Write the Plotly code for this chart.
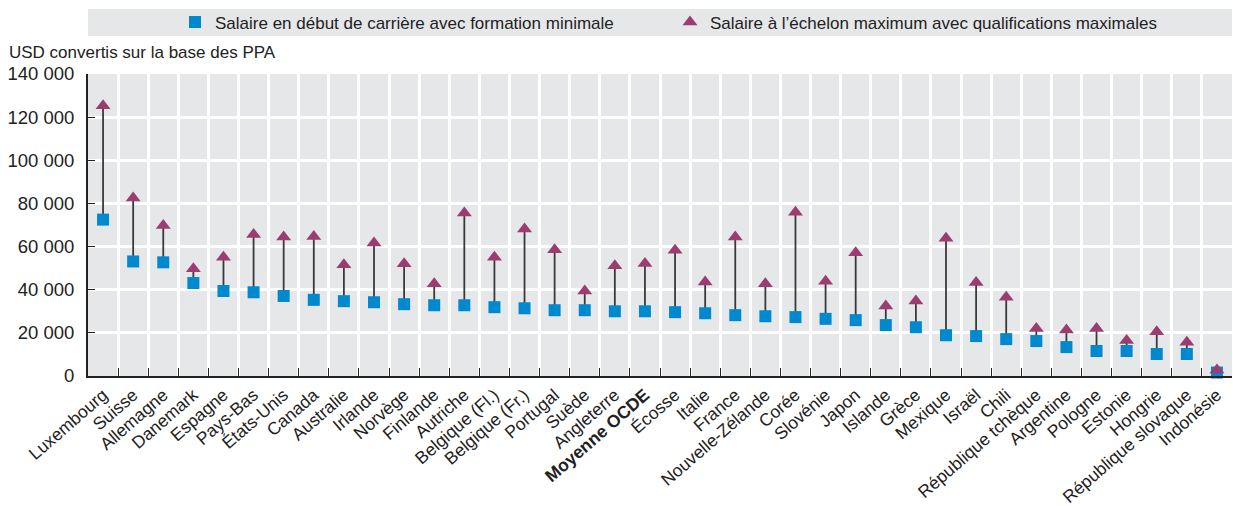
import plotly.graph_objects as go

countries = ["Luxembourg", "Suisse", "Allemagne", "Danemark", "Espagne", "Pays-Bas",
             "États-Unis", "Canada", "Australie", "Irlande", "Norvège", "Finlande",
             "Autriche", "Belgique (Fl.)", "Belgique (Fr.)", "Portugal", "Suède",
             "Angleterre", "Moyenne OCDE", "Écosse", "Italie", "France",
             "Nouvelle-Zélande", "Corée", "Slovénie", "Japon", "Islande", "Grèce",
             "Mexique", "Israël", "Chili", "République tchèque", "Argentine",
             "Pologne", "Estonie", "Hongrie", "République slovaque", "Indonésie"]

start_min = [72500, 53100, 52700, 43100, 39400, 38800, 37100, 35300, 34700, 34200,
             33300, 32800, 32800, 31900, 31400, 30500, 30500, 30000, 30000, 29600,
             29100, 28200, 27700, 27300, 26500, 25900, 23600, 22600, 18900, 18500,
             17100, 16200, 13400, 11600, 11600, 10200, 10200, 1600]

top_max = [125300, 82500, 69800, 49700, 55100, 65600, 64400, 64700, 51600, 61600,
           52000, 42800, 75600, 55100, 68200, 58500, 39400, 51100, 52200, 58300,
           43600, 64400, 42800, 75900, 43900, 57100, 32500, 34800, 63900, 43300,
           36500, 22000, 21300, 22000, 16500, 20500, 15700, 2800]

y_tickvals = [0, 20000, 40000, 60000, 80000, 100000, 120000, 140000]
y_ticktext = ["0", "20 000", "40 000", "60 000", "80 000", "100 000", "120 000", "140 000"]

legend_names = ["Salaire en début de carrière avec formation minimale",
                "Salaire à l’échelon maximum avec qualifications maximales"]

FONT = "Liberation Sans, Arial, sans-serif"
BLUE = "#0089cf"
PURPLE = "#9b3d70"
TXT = "#222222"

tick_labels = [f"<b>{c}</b>" if c == "Moyenne OCDE" else c for c in countries]

seg_x, seg_y = [], []
for c, lo, hi in zip(tick_labels, start_min, top_max):
    seg_x += [c, c, None]
    seg_y += [lo, hi, None]

fig = go.Figure()
fig.add_trace(go.Scatter(x=seg_x, y=seg_y, mode="lines",
                         line=dict(color="#3a3a3a", width=1.8),
                         showlegend=False, hoverinfo="skip", cliponaxis=False))
fig.add_trace(go.Scatter(x=tick_labels, y=start_min, mode="markers", name=legend_names[0],
                         marker=dict(symbol="square", size=12, color=BLUE),
                         cliponaxis=False, legend="legend"))
fig.add_trace(go.Scatter(x=tick_labels, y=top_max, mode="markers", name=legend_names[1],
                         marker=dict(symbol="triangle-up", size=13, color=PURPLE),
                         cliponaxis=False, legend="legend2"))

leg_common = dict(orientation="h", xref="container", yref="container",
                  y=1 - 22.5 / 506, yanchor="middle", xanchor="left",
                  bgcolor="rgba(0,0,0,0)", font=dict(family=FONT, size=17, color=TXT),
                  itemwidth=30)

fig.update_layout(
    width=1233, height=506,
    margin=dict(l=88, r=1, t=74, b=130, autoexpand=False),
    paper_bgcolor="white",
    plot_bgcolor="#e6e7e9",
    font=dict(family=FONT, size=17, color=TXT),
    showlegend=True,
    legend=dict(x=175 / 1233, **leg_common),
    legend2=dict(x=670 / 1233, **leg_common),
    xaxis=dict(type="category", tickson="boundaries", ticks="inside", ticklen=8,
               tickcolor=TXT, tickwidth=1.2, automargin=False,
               showgrid=True, gridcolor="white", gridwidth=2.5,
               showline=True, linecolor=TXT, linewidth=2,
               tickangle=-41, tickfont=dict(family=FONT, size=17.5, color=TXT),
               range=[-0.5, len(countries) - 0.5]),
    yaxis=dict(range=[0, 140000], tickvals=y_tickvals, ticktext=y_ticktext,
               ticks="inside", ticklen=7, tickcolor=TXT, tickwidth=1.2, automargin=False,
               ticklabelstandoff=8,
               showgrid=True, gridcolor="white", gridwidth=2.5,
               showline=True, linecolor=TXT, linewidth=2, zeroline=False,
               tickfont=dict(family=FONT, size=18.5, color=TXT)),
    shapes=[dict(type="rect", xref="paper", yref="paper", x0=0, x1=1.0,
                 y0=1.0 + (74 - 36) / 302, y1=1.0 + (74 - 9) / 302,
                 fillcolor="#e6e7e9", line=dict(width=0), layer="below")],
    annotations=[dict(text="USD convertis sur la base des PPA", xref="paper", yref="paper",
                      x=-81 / 1144, y=1.0 + (74 - 53) / 302,
                      xanchor="left", yanchor="middle", showarrow=False,
                      font=dict(family=FONT, size=17, color=TXT))],
)

fig.write_html("out.html", config={"displayModeBar": False},
               post_script="document.body.style.margin='0';document.body.style.overflow='hidden';")
